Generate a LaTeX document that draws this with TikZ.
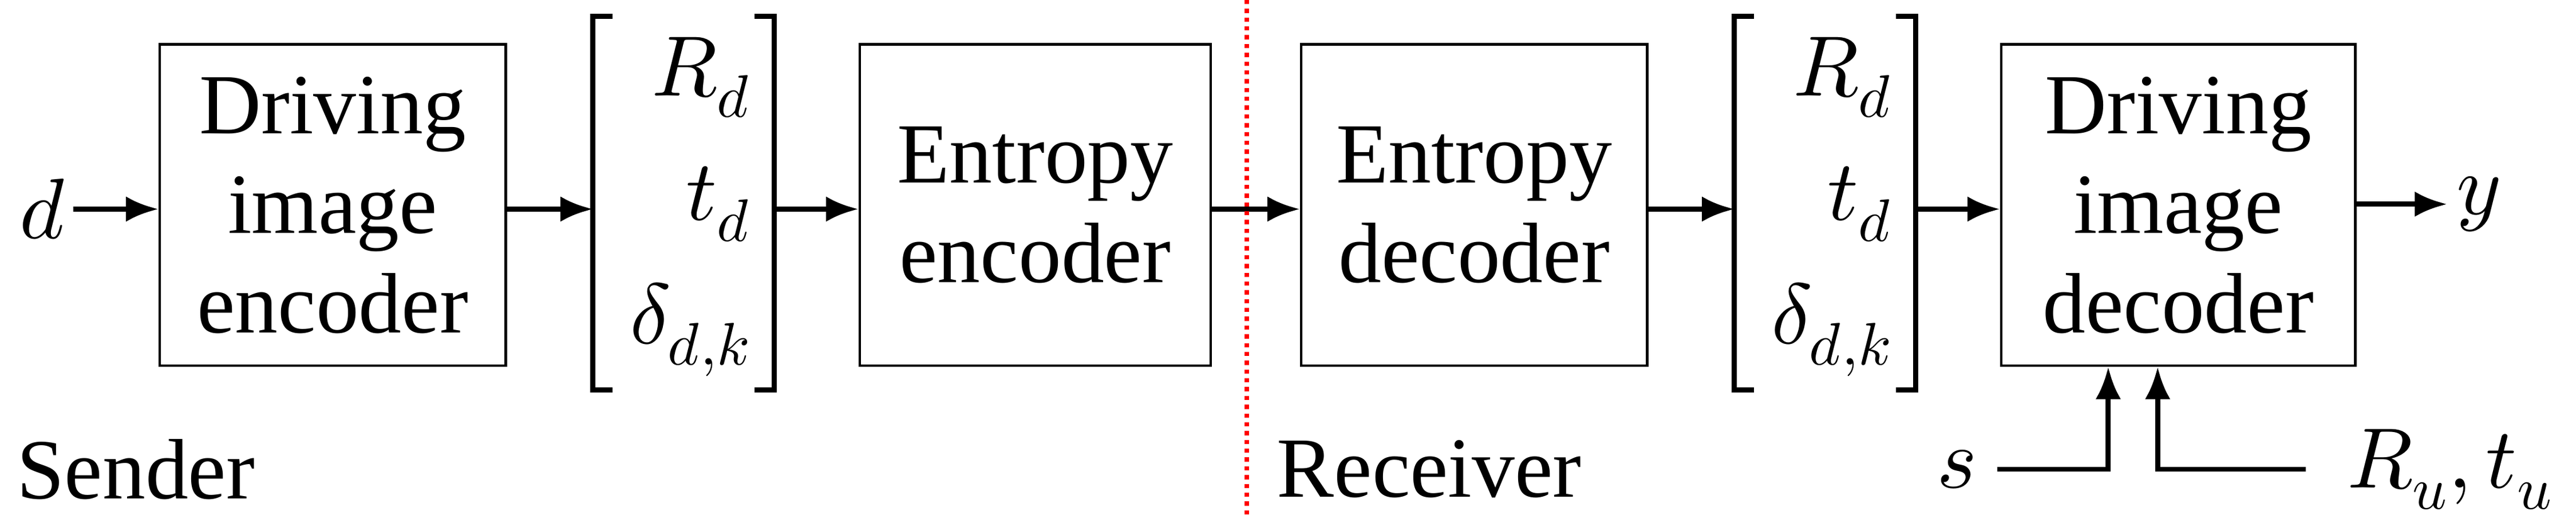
\documentclass[tikz,border=0pt]{standalone}
\usepackage{fontspec}
\usepackage{unicode-math}
\setmainfont{Liberation Serif}
\setmathfont{Latin Modern Math}
\usetikzlibrary{arrows.meta}
\begin{document}
\begin{tikzpicture}[x=0.025cm,y=-0.025cm,
  box/.style={draw,line width=1.1pt,inner sep=0pt,align=center,font=\rmfamily\fontsize{37}{43}\selectfont},
  lab/.style={font=\rmfamily\fontsize{37}{43}\selectfont,inner sep=0pt},
  arr/.style={line width=2.2pt,-{Latex[length=14pt,width=11pt]}},
  brk/.style={line width=2.2pt}]
\useasboundingbox (0,0) rectangle (1564,312.8);
\node[box,minimum width=210*0.025cm,minimum height=195*0.025cm] (b1) at (202,124.5) {Driving\\image\\encoder};
\node[box,minimum width=213*0.025cm,minimum height=195*0.025cm] (b2) at (628.5,124.5) {Entropy\\encoder};
\node[box,minimum width=210*0.025cm,minimum height=195*0.025cm] (b3) at (895,124.5) {Entropy\\decoder};
\node[box,minimum width=215*0.025cm,minimum height=195*0.025cm] (b4) at (1322.5,124.5) {Driving\\image\\decoder};
\node[lab] (d) at (26,127) {$d$};
\node[lab] (y) at (1505,124) {$y$};
\node[lab] (s) at (1188,285) {$s$};
\node[lab,anchor=west] (ru) at (1425,285) {$R_u,t_u$};
\node[lab,anchor=west] (snd) at (10,285) {Sender};
\node[lab,anchor=west] (rcv) at (775,285) {Receiver};
\foreach \n/\xl in {v1/360,v2/1053}{
  \coordinate (\n l) at (\xl,127);
  \coordinate (\n r) at (\xl+110,127);
  \draw[brk] (\xl+12,10) -- (\xl,10) -- (\xl,237) -- (\xl+12,237);
  \draw[brk] (\xl+98,10) -- (\xl+110,10) -- (\xl+110,237) -- (\xl+98,237);
  \node[lab,anchor=east] at (\xl+96,47) {$R_d$};
  \node[lab,anchor=east] at (\xl+96,124) {$t_d$};
  \node[lab,anchor=east] at (\xl+96,200) {$\delta_{d,k}$};
}
\coordinate (sp) at (1280,285);
\coordinate (rp) at (1310,285);
\draw[arr] (d.east) ++(4,0) -- (b1.west|-v1l);
\draw[arr] (b1.east|-v1l) -- (v1l);
\draw[arr] (v1r) -- (b2.west|-v1l);
\draw[arr] (b2.east|-v1l) -- (b3.west|-v1l);
\draw[arr] (b3.east|-v1l) -- (v2l);
\draw[arr] (v2r) -- (b4.west|-v1l);
\draw[arr] (b4.east|-y) -- ++(55,0);
\draw[arr] (s.east) ++(12,0) -- (sp) -- (sp|-b4.south);
\draw[arr] (ru.west) ++(-25,0) -- (rp) -- (rp|-b4.south);
\draw[red,line width=1.8pt,dotted] (757,0) -- (757,312.8);
\end{tikzpicture}
\end{document}
